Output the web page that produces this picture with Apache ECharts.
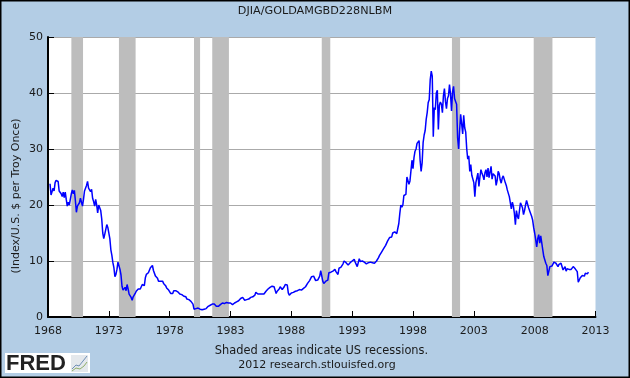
<!DOCTYPE html>
<html><head><meta charset="utf-8">
<script src="https://cdn.jsdelivr.net/npm/echarts@6/dist/echarts.min.js"></script>
<style>html,body{margin:0;padding:0;background:#B3CDE5}#c{width:630px;height:378px}</style>
</head><body><div id="c"></div>
<script>
const chartTitle = 'DJIA/GOLDAMGBD228NLBM';
const yTitle = '(Index/U.S. $ per Troy Once)';
const footer1 = 'Shaded areas indicate US recessions.';
const footer2 = '2012 research.stlouisfed.org';
const recessions = [[1969.92,1970.88],[1973.83,1975.2],[1980.0,1980.5],[1981.5,1982.87],[1990.5,1991.2],[2001.2,2001.87],[2007.92,2009.46]];
const firstYear = 1968, firstMonth = 2; // series starts March 1968, monthly
const y1968 = [23.8,21.8,22,23,22.5,24,24.4,24.4,24.2,22.5];
const y1969 = [22.6,22,21.5,22.3,21.3,22.3,21,19.8,20.5,20,19.9,22];
const y1970 = [22.7,22,22.6,20.8,18.7,19.8,19.6,20.4,21.2,20.5,19.8,21];
const y1971 = [22.5,23,23.5,24.2,23,23.1,22.4,22.8,21.2,20.6,19.8,21];
const y1972 = [20,18.6,20,20.2,19,17.5,15,14,14.8,14.7,16.5,16];
const y1973 = [15.8,14,12,11,9.7,8.8,7.2,7.6,8.5,9.8,9.8,8.5];
const y1974 = [7.5,5.5,4.8,4.9,5.3,4.7,5.8,5,4.1,4.2,3.5,3];
const y1975 = [3.6,3.9,4.2,4.6,4.9,5,5.1,5,5.2,5.8,5.6,5.6];
const y1976 = [7,7.6,7.7,7.9,8,8.8,9,9.2,8.3,8,7.3,7];
const y1977 = [6.9,6.4,6.2,6.4,6.3,6.4,6,5.9,5.6,5.2,5,4.8];
const y1978 = [4.5,4.2,4.1,4.2,4.7,4.9,4.7,4.6,4.5,4.2,4.1,4.3];
const y1979 = [4,3.8,3.7,3.5,3.6,3.2,3.3,3.1,2.8,2.8,2.6,2.3];
const y1980 = [1.4,1.2,1.5,1.5,1.6,1.4,1.4,1.3,1.3,1.4,1.4,1.4];
const y1981 = [1.5,1.7,1.9,2,2.1,2.1,2.3,2.2,2.3,2.1,1.9,1.9];
const y1982 = [1.9,2.1,2.2,2.3,2.5,2.6,2.4,2.5,2.6,2.7,2.5,2.2];
const y1983 = [2.5,2.4,2.2,2.3,2.5,2.6,2.7,2.9,2.9,3.1,3.3,3.6];
const y1984 = [3.5,3.2,3,3,3.1,3.1,3.2,3.5,3.5,3.5,3.6,3.7];
const y1985 = [3.9,4.4,4.2,4.1,4.2,4.1,4.2,4.1,4,4.1,4.4,4.6];
const y1986 = [4.6,5,5.3,5.3,5.5,5.5,5.2,5.4,4.8,4.2,4.6,4.8];
const y1987 = [5,5.4,5.3,4.9,5,5.4,5.8,5.9,5.7,4.3,3.9,4];
const y1988 = [4.3,4.5,4.4,4.6,4.6,4.9,4.7,4.9,4.9,5,4.8,5.1];
const y1989 = [5.1,5.3,5.4,5.6,6,6.2,6.5,6.8,7.2,7.5,7.3,7];
const y1990 = [6.5,6.3,6.6,6.9,7.3,8.3,8.3,6.4,6,6.3,6.4,6.7];
const y1991 = [6.6,7.9,8,8,8.1,8.2,8.3,8.5,8.1,8.2,7.6,8.7];
const y1992 = [9,8.9,9.2,9.5,10,9.8,9.7,9.6,9.3,9.5,9.7,9.9];
const y1993 = [10,10.2,10.3,9.8,9.4,9,9.1,10.4,9.9,10.2,10,10.2];
const y1994 = [9.8,9.9,9.5,9.6,9.7,9.5,9.8,9.9,9.7,9.7,9.6,9.8];
const y1995 = [10,10.3,10.6,11,11.2,11.6,11.9,12.2,12.4,12.8,13.2,13.6];
const y1996 = [13.6,14.2,14.4,14.3,15,14.8,15.2,15,14.9,15.8,16.7,18.5];
const y1997 = [20,19.6,20,21.7,22,21.9,25,24.9,23.7,24.3,24,28];
const y1998 = [26.5,28.5,29.6,30,31,31,31.5,28,26,27.5,31.2,32.5];
const y1999 = [33.3,35.3,36.5,38.3,38.8,42.4,43.9,43,32.2,37.4,37,40];
const y2000 = [40.5,33.5,37.8,38.4,38,36.5,39.5,40.8,38.5,37.2,39,39.5];
const y2001 = [41.5,39.8,36.8,40.2,41.2,39,38.5,38,32,30,33.3,36.2];
const y2002 = [36.5,32.7,36,33.8,33,30,28.2,28.8,26,27.2,25.3,25.6];
const y2003 = [24,21.5,24,24.3,25.7,23.3,25,26.3,25.7,25.2,24.5,25.8];
const y2004 = [26.3,25,26.6,24.9,25,26.9,24.6,25.6,25.7,25.2,23.5,24.4];
const y2005 = [26,25.6,24.5,23.9,24.8,25.2,25,24,23.5,22.7,22.7,21.5];
const y2006 = [21.8,19.3,20.5,19.8,18.5,16.5,19,18,17.5,19,20.4,20.7];
const y2007 = [19.5,18.3,19,20,20.8,20.5,19.5,19.2,18.5,18,17.3,16];
const y2008 = [15,13.8,12.5,14,14.7,13.2,14.5,14.5,12,10.8,10.5,9.6];
const y2009 = [9.2,7.4,7.5,9,9,9.1,9.4,9.8,10.1,9.6,9.3,9];
const y2010 = [9.4,9.5,9.6,9.5,8.4,8.3,9,8.2,8.6,8.6,8.5,8.3];
const y2011 = [8.5,8.7,9,8.7,8.6,8.3,8.1,6.2,6.6,7,6.9,7.4];
const y2012 = [7.4,7.3,7.8,8,7.7,8];

const values = [].concat(y1968,y1969,y1970,y1971,y1972,y1973,y1974,y1975,y1976,y1977,y1978,y1979,y1980,y1981,y1982,y1983,y1984,y1985,y1986,y1987,y1988,y1989,y1990,y1991,y1992,y1993,y1994,y1995,y1996,y1997,y1998,y1999,y2000,y2001,y2002,y2003,y2004,y2005,y2006,y2007,y2008,y2009,y2010,y2011,y2012);
const points = values.map((v,i)=>[firstYear+(firstMonth+i)/12, v]);

const txt = '#1a1a1a', font = '"DejaVu Sans"';
const chart = echarts.init(document.getElementById('c'), null, {renderer:'canvas'});
chart.setOption({
  animation:false,
  backgroundColor:'#B3CDE5',
  title:{text:chartTitle,left:'center',top:1,textStyle:{fontFamily:font,fontSize:11.2,fontWeight:'normal',color:txt}},
  grid:{left:48,top:37,width:547.5,height:280,show:true,backgroundColor:'#fff',borderWidth:0},
  xAxis:{type:'value',min:1968,max:2013,interval:5,
    axisLine:{show:true,lineStyle:{color:'#000',width:2}},
    axisTick:{show:true,inside:true,length:6,lineStyle:{color:'#000',width:1}},
    axisLabel:{fontFamily:font,fontSize:11,color:txt,margin:9,formatter:v=>String(v),showMinLabel:true,showMaxLabel:true,hideOverlap:false},
    splitLine:{show:false}},
  yAxis:{type:'value',min:0,max:50,interval:10,
    axisLine:{show:true,lineStyle:{color:'#000',width:2}},
    axisTick:{show:true,inside:true,length:6,lineStyle:{color:'#000',width:1}},
    axisLabel:{fontFamily:font,fontSize:11,color:txt,margin:5},
    splitLine:{show:true,lineStyle:{color:'#AAAAAA',width:1}}},
  series:[
    {type:'line',name:'Recessions',data:[],silent:true,z:1,
      markArea:{silent:true,itemStyle:{color:'#BDBDBD',opacity:1},label:{show:false},
        data:recessions.map(r=>[{xAxis:r[0]},{xAxis:r[1]}])}},
    {type:'line',name:'DJIA/GOLD',data:points,z:3,showSymbol:false,symbol:'none',
      lineStyle:{color:'#0000FF',width:1.5},itemStyle:{color:'#0000FF'}}
  ],
  graphic:[
    {type:'rect',z:100,shape:{x:0,y:0,width:630,height:378},style:{fill:'none',stroke:'#000',lineWidth:3}},
    {type:'text',z:10,x:16,y:196,rotation:Math.PI/2,style:{text:yTitle,fontFamily:font,fontSize:11,fill:txt,align:'center',verticalAlign:'middle'}},
    {type:'text',z:10,x:321.5,y:351.5,style:{text:footer1,fontFamily:font,fontSize:11.4,fill:txt,align:'center',verticalAlign:'middle'}},
    {type:'text',z:10,x:317,y:365.5,style:{text:footer2,fontFamily:font,fontSize:11,fill:txt,align:'center',verticalAlign:'middle'}},
    {type:'rect',z:10,shape:{x:5,y:353,width:85,height:20},style:{fill:'#fff'}},
    {type:'text',z:11,x:6,y:363.5,style:{text:'FRED',fontFamily:'"Liberation Sans"',fontWeight:'bold',fontSize:22,fill:'#222',align:'left',verticalAlign:'middle'}},
    {type:'rect',z:11,shape:{x:71,y:355,width:17,height:17},style:{fill:'#E4E8EC'}},
    {type:'polyline',z:12,shape:{points:[[72,369],[76,365],[79,366],[83,361],[87,356]]},style:{fill:'none',stroke:'#6F8FB5',lineWidth:1}},
    {type:'polyline',z:12,shape:{points:[[72,371],[76,368],[80,369],[84,366],[87,362]]},style:{fill:'none',stroke:'#8FAE6B',lineWidth:1}}
  ]
});
</script></body></html>
